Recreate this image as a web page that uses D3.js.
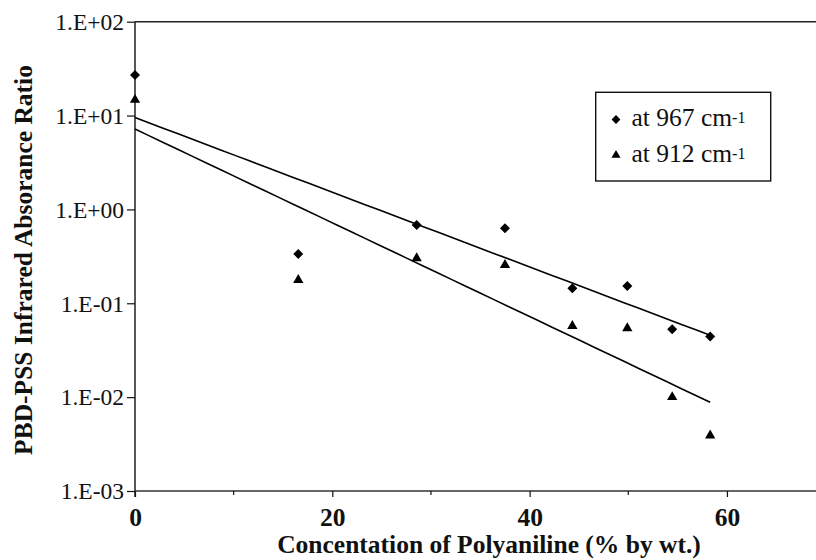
<!DOCTYPE html>
<html>
<head>
<meta charset="utf-8">
<script src="https://cdn.jsdelivr.net/npm/d3@7"></script>
<style>
  html, body { margin: 0; padding: 0; background: #fff; }
  svg { display: block; font-family: "Liberation Serif", "Times New Roman", serif; }
</style>
</head>
<body>
<svg id="chart" width="816" height="560"></svg>
<script>
// PANI concentration (% by wt.) for each sample
const concentration = [0, 16.55, 28.55, 37.5, 44.33, 49.9, 54.45, 58.3];
// PBD-PSS infrared absorbance ratio at the two bands
const ratio967 = [27, 0.336, 0.684, 0.63, 0.145, 0.153, 0.053, 0.0442];
const ratio912 = [14.7, 0.177, 0.302, 0.256, 0.0574, 0.0543, 0.0100, 0.0039];
const seriesNames = ["at 967 cm", "at 912 cm"];
const xTicks = [0, 20, 40, 60];
const xMinorTicks = [10, 30, 50, 70];
const yTicks = [1e2, 1e1, 1e0, 1e-1, 1e-2, 1e-3];
const yTickLabels = ["1.E+02", "1.E+01", "1.E+00", "1.E-01", "1.E-02", "1.E-03"];

const FONT = "Liberation Serif";
const svg = d3.select("#chart");
const plotLeft = 135, plotRight = 825.6, plotTop = 21.7, plotBottom = 491;

const x = d3.scaleLinear().domain([0, 70]).range([plotLeft, plotRight]);
const y = d3.scaleLog().domain([1e-3, 1e2]).range([plotBottom, plotTop]);

const ink = "#111";

// plot frame: top border line
svg.append("line")
  .attr("x1", plotLeft).attr("x2", plotRight)
  .attr("y1", plotTop).attr("y2", plotTop)
  .attr("stroke", "#222").attr("stroke-width", 1.4);

// y axis
const yAxis = d3.axisLeft(y).tickValues(yTicks)
  .tickFormat((d, i) => yTickLabels[i]).tickSize(8).tickPadding(3);
const gy = svg.append("g").attr("transform", `translate(${plotLeft},0)`).call(yAxis)
  .attr("font-family", FONT);
gy.select(".domain").attr("stroke", ink).attr("stroke-width", 1.4).attr("d", `M0,${plotTop}V${plotBottom + 6}`);
gy.selectAll(".tick line").attr("stroke", ink).attr("stroke-width", 1.2);
gy.selectAll(".tick text")
  .style("font-family", FONT)
  .attr("font-size", 23.5)
  .attr("fill", ink).attr("dy", "0.33em");

// x axis
const xAxis = d3.axisBottom(x).tickValues(xTicks).tickFormat(d3.format("d")).tickSize(6).tickPadding(11);
const gx = svg.append("g").attr("transform", `translate(0,${plotBottom})`).call(xAxis)
  .attr("font-family", FONT);
gx.select(".domain").attr("stroke", "#333").attr("stroke-width", 1.4).attr("d", `M${plotLeft},0H${plotRight}`);
gx.selectAll(".tick line").attr("stroke", ink).attr("stroke-width", 1.2);
gx.selectAll(".tick text")
  .style("font-family", FONT).attr("font-weight", "bold")
  .attr("font-size", 25.5).attr("fill", ink);
gx.selectAll(".minor").data(xMinorTicks).enter().append("line")
  .attr("class", "minor")
  .attr("x1", d => x(d)).attr("x2", d => x(d))
  .attr("y1", 0).attr("y2", 4)
  .attr("stroke", ink).attr("stroke-width", 1.2);

// axis titles
svg.append("text")
  .attr("x", 489).attr("y", 553)
  .attr("text-anchor", "middle").style("font-family", FONT)
  .attr("font-weight", "bold").attr("font-size", 25.5).attr("fill", ink)
  .text("Concentation of Polyaniline (% by wt.)");

svg.append("text")
  .attr("transform", `translate(32,260) rotate(-90)`)
  .attr("text-anchor", "middle").style("font-family", FONT)
  .attr("font-weight", "bold").attr("font-size", 25.5).attr("fill", ink)
  .text("PBD-PSS Infrared Absorance Ratio");

// exponential trend lines: least squares on log10 of the ratio
function expFit(xs, ys) {
  const ly = ys.map(v => Math.log10(v));
  const mx = d3.mean(xs), my = d3.mean(ly);
  const sxy = d3.sum(xs, (v, i) => (v - mx) * (ly[i] - my));
  const sxx = d3.sum(xs, v => (v - mx) * (v - mx));
  const b = sxy / sxx, a = my - b * mx;
  return xv => Math.pow(10, a + b * xv);
}

const series = [
  { name: seriesNames[0], values: ratio967, symbol: "diamond" },
  { name: seriesNames[1], values: ratio912, symbol: "triangle" }
];

const xExtent = d3.extent(concentration);
series.forEach(s => {
  const f = expFit(concentration, s.values);
  const pts = d3.range(0, 41).map(i => xExtent[0] + (xExtent[1] - xExtent[0]) * i / 40);
  svg.append("path")
    .attr("d", d3.line().x(d => x(d)).y(d => y(f(d)))(pts))
    .attr("fill", "none").attr("stroke", "#000").attr("stroke-width", 1.6);
});

function drawMarker(g, type, cx, cy, scale) {
  const k = scale || 1;
  if (type === "diamond") {
    g.append("path").attr("d", d3.symbol().type(d3.symbolSquare).size(50 * k * k)())
      .attr("transform", `translate(${cx},${cy}) rotate(45)`).attr("fill", "#000");
  } else {
    g.append("path").attr("d", d3.symbol().type(d3.symbolTriangle).size(46 * k * k)())
      .attr("transform", `translate(${cx},${cy})`).attr("fill", "#000");
  }
}

const marks = svg.append("g");
series.forEach(s => {
  s.values.forEach((v, i) => drawMarker(marks, s.symbol, x(concentration[i]), y(v)));
});

// legend
const lg = svg.append("g");
lg.append("rect")
  .attr("x", 595.7).attr("y", 92.3).attr("width", 175).attr("height", 88.7)
  .attr("fill", "#fff").attr("stroke", ink).attr("stroke-width", 1.4);
series.forEach((s, i) => {
  const base = 126 + i * 35.7;
  drawMarker(lg, s.symbol, 616, base - 6.5, 0.88);
  const t = lg.append("text")
    .attr("x", 631.5).attr("y", base)
    .style("font-family", FONT).attr("font-size", 25.5).attr("fill", ink);
  t.append("tspan").text(s.name);
  t.append("tspan").attr("font-size", 16).attr("dy", -3).text("-1");
});
</script>
</body>
</html>
